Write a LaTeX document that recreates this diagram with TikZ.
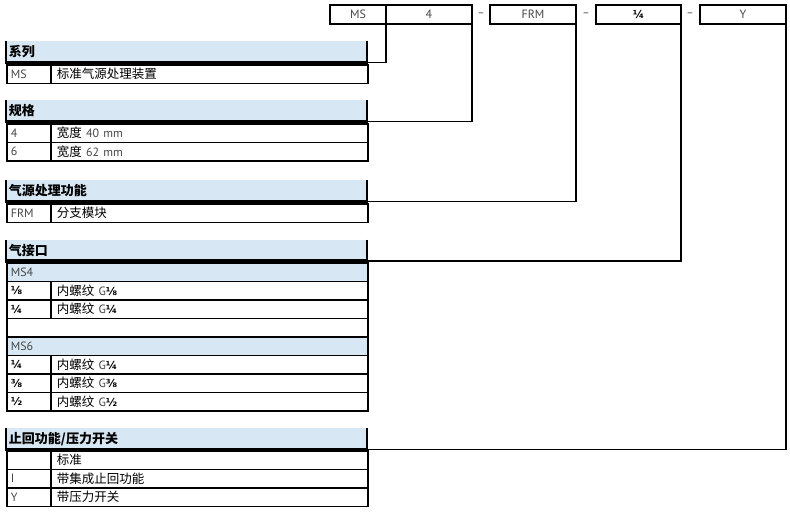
\documentclass[tikz,border=0pt]{standalone}
\usepackage{fontspec}
\setmainfont{PT Sans}
\newfontfamily\cjk{Noto Sans CJK SC}
\newfontfamily\fracfont{DejaVu Sans}
\usepackage{xcolor}
\usepackage{tikz}
\usetikzlibrary{positioning}
\definecolor{hdrblue}{RGB}{215,232,244}
\definecolor{txtgray}{RGB}{70,70,70}
\newcommand\latn[1]{{\rmfamily\color{txtgray}\fontsize{12}{13}\selectfont#1}}
\newcommand\fr[1]{{\fracfont\bfseries\color{black}\fontsize{11}{11}\selectfont #1}}
% one row of a table: name, top y, code, text
\newcommand\specrow[4]{%
  \node[codecell] (#1c) at (6,#2) {#3};
  \node[desccell] (#1d) at (50,#2) {#4};}
\tikzset{
  hdr/.style={rectangle, fill=hdrblue, anchor=north west, outer sep=0pt,
              minimum width=361pt, minimum height=21.5pt, text width=355pt,
              inner xsep=3pt, inner ysep=0pt, align=left,
              font=\cjk\bfseries\fontsize{13}{14}\selectfont},
  subhdr/.style={rectangle, draw, line width=1.7pt, fill=hdrblue, anchor=north west,
                 minimum width=361pt, minimum height=18.5pt, text width=353pt,
                 inner xsep=4pt, inner ysep=0pt, align=left, text=txtgray,
                 font=\fontsize{12}{13}\selectfont},
  codecell/.style={rectangle, draw, line width=1.7pt, anchor=north west,
                   minimum width=44pt, minimum height=18.5pt, text width=36pt,
                   inner xsep=4pt, inner ysep=0pt, align=left, text=txtgray,
                   font=\fontsize{12}{13}\selectfont},
  desccell/.style={codecell, minimum width=317pt, text width=305pt, inner xsep=6pt,
                   text=black, font=\cjk\fontsize{12.5}{13}\selectfont},
  codebox/.style={rectangle, draw, line width=1.7pt, inner sep=0pt, outer sep=0pt,
                  minimum height=19pt, anchor=north west, text=txtgray,
                  font=\fontsize{12}{13}\selectfont},
  dashlbl/.style={text=txtgray, inner sep=0pt, font=\fontsize{11}{11}\selectfont},
  conn/.style={line width=1.7pt}
}
\begin{document}
\begin{tikzpicture}[x=1pt, y=-1pt]
  \useasboundingbox (0,0) rectangle (790,514);

  % order code
  \node[codebox, minimum width=56pt] (cMS) at (330,5) {MS};
  \node[codebox, minimum width=86pt, right=0pt of cMS, anchor=west] (cSize) {4};
  \node[codebox, minimum width=86pt] (cFunc) at (490,5) {FRM};
  \node[codebox, minimum width=85pt] (cPort) at (596,5) {\fr{¼}};
  \node[codebox, minimum width=86pt] (cValve) at (700,5) {Y};
  \node[dashlbl] (d1) at (481,15) {–};
  \node[dashlbl] (d2) at (586,15) {–};
  \node[dashlbl] (d3) at (690,15) {–};

  % series
  \node[hdr] (hSer) at (6,41) {系列};
  \specrow{rMS}{64}{MS}{标准气源处理装置}

  % size
  \node[hdr] (hSize) at (6,100) {规格};
  \specrow{rFour}{123}{4}{宽度 \latn{40 mm}}
  \specrow{rSix}{141.5}{6}{宽度 \latn{62 mm}}

  % function
  \node[hdr] (hFunc) at (6,180) {气源处理功能};
  \specrow{rFrm}{203}{FRM}{分支模块}

  % ports
  \node[hdr] (hPort) at (6,239.5) {气接口};
  \node[subhdr] (sFour) at (6,262) {MS4};
  \specrow{pA}{280.5}{\fr{⅛}}{内螺纹 \latn{G}\fr{⅛}}
  \specrow{pB}{299}{\fr{¼}}{内螺纹 \latn{G}\fr{¼}}
  \node[subhdr, fill=white] (sGap) at (6,317.5) {};
  \node[subhdr] (sSix) at (6,336) {MS6};
  \specrow{pC}{354.5}{\fr{¼}}{内螺纹 \latn{G}\fr{¼}}
  \specrow{pD}{373}{\fr{⅜}}{内螺纹 \latn{G}\fr{⅜}}
  \specrow{pE}{391.5}{\fr{½}}{内螺纹 \latn{G}\fr{½}}

  % valve / switch
  \node[hdr] (hValve) at (6,428) {止回功能/压力开关};
  \specrow{vA}{450}{}{标准}
  \specrow{vB}{468.5}{I}{带集成止回功能}
  \specrow{vC}{487}{Y}{带压力开关}

  % header edges
  \foreach \h in {hSer,hSize,hFunc,hPort,hValve} {
    \draw[line width=1.7pt] (\h.south west) -- (\h.north west)
                            (\h.north east) -- (\h.south east);
    \draw[line width=3.5pt] ([xshift=-0.85pt]\h.south west) -- ([xshift=0.85pt]\h.south east);
  }

  % connectors
  \draw[conn] (cMS.south east) |- (hSer.south east);
  \draw[conn] (cSize.south east) |- (hSize.south east);
  \draw[conn] (cFunc.south east) |- (hFunc.south east);
  \draw[conn] (cPort.south east) |- (hPort.south east);
  \draw[conn] (cValve.south east) |- (hValve.south east);
\end{tikzpicture}
\end{document}
